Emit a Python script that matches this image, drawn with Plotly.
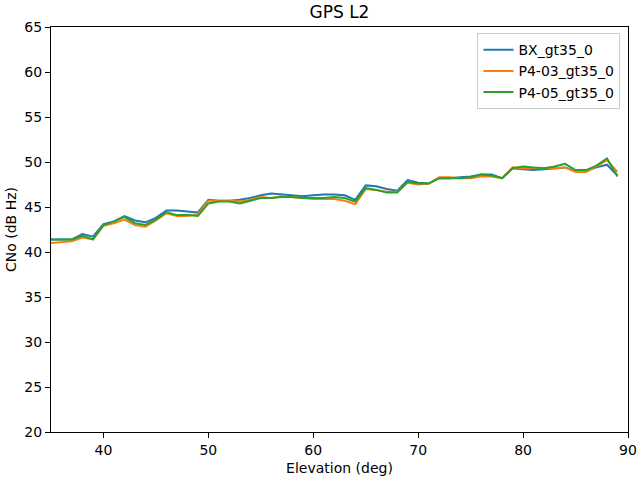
import plotly.graph_objects as go

elevation = list(range(35, 90))

bx = [41.4, 41.4, 41.4, 42.0, 41.7, 43.1, 43.4, 44.0, 43.5, 43.3,
      43.8, 44.6, 44.6, 44.5, 44.4, 45.8, 45.7, 45.7, 45.8, 46.0,
      46.3, 46.5, 46.4, 46.3, 46.2, 46.3, 46.4, 46.4, 46.3, 45.8,
      47.4, 47.3, 47.0, 46.8, 48.0, 47.7, 47.6, 48.2, 48.2, 48.3,
      48.4, 48.6, 48.6, 48.2, 49.3, 49.2, 49.1, 49.2, 49.3, 49.4,
      49.0, 49.0, 49.4, 49.7, 48.5]

p403 = [41.0, 41.1, 41.2, 41.6, 41.4, 42.9, 43.2, 43.6, 43.0, 42.8,
        43.5, 44.3, 44.0, 44.0, 44.2, 45.7, 45.7, 45.7, 45.6, 45.8,
        46.1, 46.0, 46.2, 46.1, 46.0, 45.9, 45.9, 45.9, 45.7, 45.3,
        47.0, 46.9, 46.7, 46.7, 47.7, 47.5, 47.6, 48.3, 48.3, 48.2,
        48.2, 48.4, 48.4, 48.2, 49.4, 49.3, 49.3, 49.3, 49.3, 49.4,
        48.9, 48.9, 49.5, 50.2, 48.9]

p405 = [41.4, 41.4, 41.4, 41.8, 41.4, 43.0, 43.4, 43.9, 43.2, 43.0,
        43.6, 44.4, 44.1, 44.1, 44.0, 45.4, 45.6, 45.6, 45.4, 45.7,
        46.0, 46.0, 46.1, 46.1, 46.0, 46.0, 46.0, 46.1, 46.0, 45.6,
        47.1, 46.9, 46.6, 46.6, 47.8, 47.6, 47.6, 48.2, 48.2, 48.2,
        48.3, 48.6, 48.5, 48.2, 49.3, 49.5, 49.4, 49.3, 49.5, 49.8,
        49.1, 49.1, 49.6, 50.4, 48.4]

series = [("BX_gt35_0", bx, "#1f77b4"),
          ("P4-03_gt35_0", p403, "#ff7f0e"),
          ("P4-05_gt35_0", p405, "#2ca02c")]

fig = go.Figure()
for name, vals, color in series:
    fig.add_trace(go.Scatter(x=elevation, y=vals, mode="lines", name=name,
                             line=dict(color=color, width=2)))

axis_common = dict(showgrid=False, zeroline=False, showline=True, linecolor="black",
                   linewidth=1, mirror=True, ticks="outside", ticklen=5, tickwidth=1,
                   tickcolor="black", tickfont=dict(size=14, color="black"),
                   automargin=False)

fig.update_layout(
    width=640, height=480,
    margin=dict(l=51, r=12, t=27, b=48),
    paper_bgcolor="white", plot_bgcolor="white",
    font=dict(family="DejaVu Sans", color="black"),
    title=dict(text="GPS L2", x=0.5, xref="paper", xanchor="center",
               y=0.975, yanchor="middle", font=dict(size=17)),
    xaxis=dict(range=[35, 90], tickvals=[40, 50, 60, 70, 80, 90],
               title=dict(text="Elevation (deg)", font=dict(size=14), standoff=6),
               **axis_common),
    yaxis=dict(range=[20, 65], tickvals=list(range(20, 66, 5)),
               title=dict(text="CNo (dB Hz)", font=dict(size=14), standoff=4),
               **axis_common),
    legend=dict(x=0.987, xanchor="right", y=0.985, yanchor="top",
                bordercolor="#cccccc", borderwidth=1, bgcolor="rgba(255,255,255,0.8)",
                font=dict(size=14), itemwidth=30, tracegroupgap=0),
)

fig.write_html("out.html", config={"displayModeBar": False},
               post_script="document.body.style.margin='0';document.body.style.padding='0';")
